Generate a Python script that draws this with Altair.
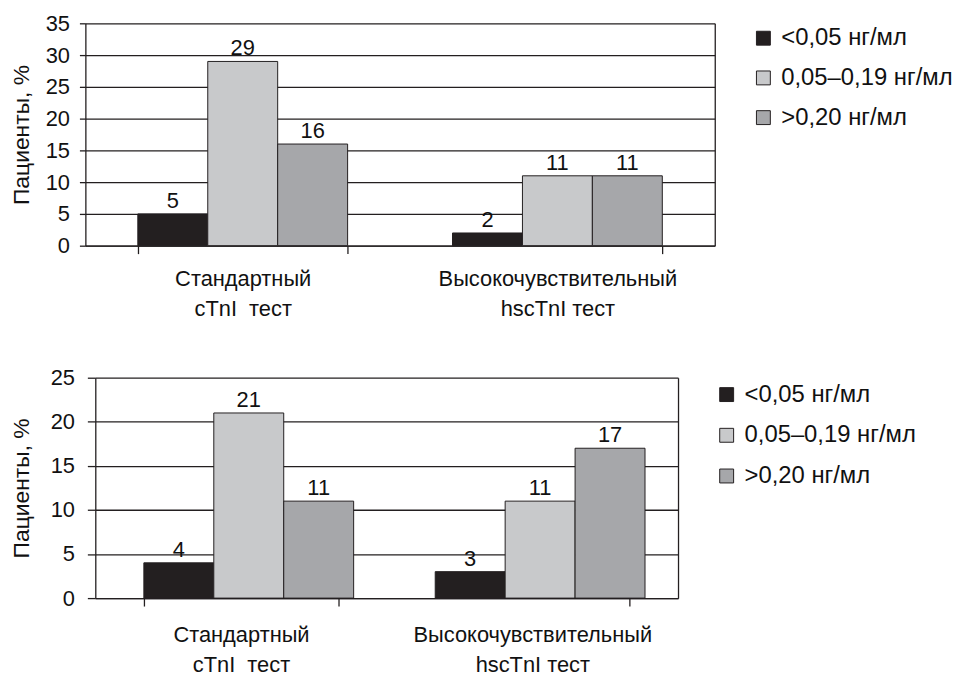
import altair as alt
import pandas as pd

categories = ["Стандартный|cTnI\u00a0 тест", "Высокочувствительный|hscTnI тест"]
levels = ["<0,05 нг/мл", "0,05–0,19 нг/мл", ">0,20 нг/мл"]
colors = ["#231f20", "#c8c9cb", "#a6a7aa"]

top_standard = [5, 29, 16]
top_hs = [2, 11, 11]
bottom_standard = [4, 21, 11]
bottom_hs = [3, 11, 17]

INK = "#231f20"
FONT = "Liberation Sans"


def make_df(std, hs):
    rows = []
    for lev, v in zip(levels, std):
        rows.append({"cat": categories[0], "level": lev, "value": v})
    for lev, v in zip(levels, hs):
        rows.append({"cat": categories[1], "level": lev, "value": v})
    return pd.DataFrame(rows)


def panel(std, hs, width, shift, height, ymax, ytick, ylabpad, ytitlepad, xlabpad,
          legx, legy, legrow):
    df = make_df(std, hs)
    yaxis = alt.Axis(
        values=list(range(0, ymax + 1, 5)),
        title="Пациенты, %",
        titleFontSize=23,
        titleFont=FONT,
        titleFontWeight="normal",
        titleColor="#111111",
        titlePadding=ytitlepad,
        labelFontSize=22,
        labelFont=FONT,
        labelColor="#111111",
        labelPadding=ylabpad,
        labelOverlap=False,
        tickSize=ytick,
        tickColor=INK,
        tickWidth=1.3,
        domainColor=INK,
        domainWidth=1.3,
        grid=True,
        gridColor=INK,
        gridWidth=1.3,
        gridOpacity=1,
        offset=-shift,
    )
    right_axis = alt.Axis(
        orient="right",
        title=None,
        labels=False,
        ticks=False,
        grid=False,
        domain=True,
        domainColor=INK,
        domainWidth=1.3,
    )
    yscale = alt.Scale(domain=[0, ymax], nice=False)
    base = alt.Chart(df).encode(
        x=alt.X(
            "cat:N",
            sort=categories,
            scale=alt.Scale(paddingInner=1 / 3, paddingOuter=1 / 6, range=[shift, width]),
            axis=alt.Axis(
                title=None,
                labelExpr="split(datum.label, '|')",
                labelLineHeight=30,
                labelAngle=0,
                labelFontSize=22,
                labelFont=FONT,
                labelColor="#111111",
                labelPadding=xlabpad,
                labelLimit=0,
                tickBand="extent",
                tickSize=8,
                tickColor=INK,
                tickWidth=1.3,
                domainColor=INK,
                domainWidth=1.3,
                grid=False,
            ),
        ),
        xOffset=alt.XOffset("level:N", sort=levels, scale=alt.Scale(paddingInner=0, paddingOuter=0)),
    )
    bars = base.mark_bar(stroke=INK, strokeWidth=1, opacity=1).encode(
        y=alt.Y("value:Q", scale=yscale, axis=yaxis),
        color=alt.Color(
            "level:N",
            sort=levels,
            scale=alt.Scale(domain=levels, range=colors),
            legend=alt.Legend(
                title=None,
                orient="none",
                legendX=legx,
                legendY=legy,
                symbolType="square",
                symbolSize=196,
                symbolStrokeColor=INK,
                symbolStrokeWidth=1,
                symbolOpacity=1,
                labelFontSize=24,
                labelFont=FONT,
                labelColor="#111111",
                labelOffset=6,
                labelLimit=0,
                rowPadding=legrow,
                padding=0,
            ),
        ),
    )
    text = base.mark_text(
        dy=-6, baseline="alphabetic", fontSize=22, font=FONT, color="#111111"
    ).encode(
        y=alt.Y("value:Q", scale=yscale, axis=right_axis),
        text=alt.Text("value:Q"),
    )
    return (
        alt.layer(bars, text)
        .resolve_axis(y="independent")
        .properties(width=width, height=height)
    )


top = panel(top_standard, top_hs, 634, 0, 224, 35, 6, 10, 12, 15, 671, 3, 16)
bottom = panel(bottom_standard, bottom_hs, 597, 10, 222, 25, 8, 13, 17, 19, 634, 5, 17)

chart = (
    alt.vconcat(top, bottom, spacing=48)
    .resolve_scale(color="independent")
    .properties(padding={"left": 10, "top": 10, "right": 0, "bottom": 0}, background="white")
    .configure(font=FONT)
    .configure_view(strokeWidth=0)
)

chart.save("out.html", embed_options={"renderer": "svg", "actions": False})
